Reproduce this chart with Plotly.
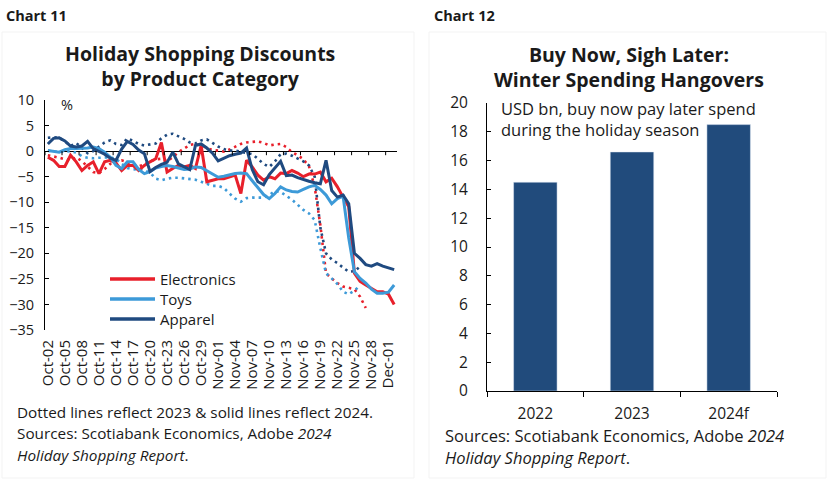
import pandas as pd
import plotly.graph_objects as go

# Figure size in px, used to place text in paper coords
W, H = 828, 482

# ---- Chart 11 data: holiday shopping discounts (%), daily from Oct-02
dates = pd.date_range("2024-10-02", "2024-12-02").strftime("%b-%d").tolist()
days = list(range(len(dates)))

elec_2024 = [-1.2, -1.8, -3.0, -3.0, -0.8, -2.1, -3.8, -2.8, -2.1, -4.4,
             -2.1, -1.8, -2.3, -3.8, -2.8, -2.8, -3.8, -2.8, -2.1, -1.5,
             1.7, -4.1, -3.4, -2.8, -3.1, -2.8, -3.4, 1.1, -6.0, -5.7,
             -5.4, -5.4, -5.0, -4.7, -8.3, -1.8, -3.1, -4.7, -5.7, -5.0,
             -5.4, -4.3, -4.4, -3.8, -4.3, -5.0, -4.5, -4.5, -4.1, -6.0,
             -5.3, -7.0, -9.0, -10.9, -23.9, -25.5, -26.2, -26.8, -27.5, -27.5,
             -28.0, -30.0]
toys_2024 = [0.1, -0.1, -0.2, 0.3, 0.5, 0.5, 0.5, 0.6, 0.8, 0.5,
             -0.2, -1.2, -2.8, -3.4, -2.1, -2.1, -3.6, -4.4, -4.0, -3.3,
             -3.0, -2.8, -3.0, -3.3, -3.6, -3.5, -3.1, -3.2, -3.8, -4.5,
             -5.1, -4.9, -4.6, -4.4, -4.3, -4.4, -5.8, -7.2, -8.5, -9.3,
             -8.3, -7.0, -7.6, -7.9, -8.0, -7.5, -7.0, -6.7, -7.5, -8.6,
             -10.3, -9.3, -8.8, -17.0, -23.6, -24.9, -25.8, -27.0, -27.8, -27.8,
             -27.6, -26.2]
apparel_2024 = [1.4, 2.5, 2.6, 2.0, 1.0, 0.8, 1.0, 1.9, 0.5, -0.1,
                -0.6, -1.4, -1.8, 0.4, 1.9, 1.3, 0.2, -0.5, -4.0, -3.2,
                -2.6, -2.2, -0.2, -2.5, -3.0, -3.6, 1.1, 1.4, 0.6, -0.4,
                -1.9, -1.4, -0.9, -0.6, -0.4, 0.6, -3.6, -6.0, -6.6, -4.6,
                -3.2, -2.0, -4.8, -4.7, -5.2, -5.6, -5.9, -6.2, -6.4, -1.8,
                -7.7, -9.0, -8.6, -10.3, -20.0, -21.0, -22.2, -22.5, -22.0, -22.5,
                -22.8, -23.2]

elec_2023 = [-0.8, -1.0, -1.3, -1.6, -1.8, -1.2, -2.0, -3.0, -4.1, -4.3,
             -3.5, -2.5, -2.0, -1.8, -2.2, -2.5, -3.0, -2.6, -2.0, -1.6,
             -1.5, -2.0, -1.2, -0.2, 0.5, 1.2, 1.4, 1.2, 0.6, 0.2,
             0.1, -0.1, 0.3, 0.8, 1.4, 1.7, 1.8, 1.9, 1.6, 1.1,
             1.3, 1.4, 0.8, -0.2, -0.8, -1.6, -3.0, -7.0, -14.5, -23.9,
             -24.9, -25.8, -26.5, -26.8, -27.0, -28.5, -30.7]
toys_2023 = [0.1, 0.0, -0.2, -0.1, 0.0, -0.3, -1.0, -1.3, -1.4, -1.3,
             -1.2, -1.2, -1.5, -2.5, -3.3, -3.6, -3.5, -3.8, -4.2, -5.4,
             -5.7, -5.4, -5.2, -5.2, -5.3, -5.4, -5.6, -6.0, -6.4, -6.8,
             -6.8, -7.2, -8.3, -9.3, -9.9, -9.2, -9.1, -9.1, -9.1, -8.6,
             -7.8, -8.0, -8.8, -9.5, -10.5, -11.5, -12.2, -13.5, -19.0, -23.9,
             -24.9, -26.0, -27.5, -28.0, -27.3, -26.3]
apparel_2023 = [2.6, 2.7, 2.6, 1.9, 1.0, 1.6, 0.6, -0.4, 0.0, 0.8,
                1.7, 2.1, 1.4, 1.2, 2.5, 2.0, 1.4, 1.1, 1.3, 1.5,
                2.5, 3.2, 3.4, 2.9, 2.4, 1.7, 1.5, 2.1, 2.3, 1.6,
                0.9, 0.4, 0.1, 0.1, -0.1, -0.3, -0.6, -1.5, -2.5, -3.1,
                -2.0, -0.6, -0.5, -0.9, -1.4, -2.0, -2.8, -5.0, -15.0, -20.0,
                -21.2, -21.9, -22.8, -23.6, -23.5, -22.6]

# ---- Chart 12 data: BNPL holiday spend, USD bn
years = ["2022", "2023", "2024f"]
bnpl_spend = [14.5, 16.6, 18.5]

RED = "#E8202B"
LIGHT_BLUE = "#3D9AD8"
NAVY = "#1F4A80"
BAR_NAVY = "#214B7C"
FONT = "Open Sans"
TXT = "#1a1a1a"

series_2024 = [("Electronics", elec_2024, RED),
               ("Toys", toys_2024, LIGHT_BLUE),
               ("Apparel", apparel_2024, NAVY)]
series_2023 = [("Electronics 2023", elec_2023, RED),
               ("Toys 2023", toys_2023, LIGHT_BLUE),
               ("Apparel 2023", apparel_2023, NAVY)]


def px(x):
    return x / W


def py(y):
    return 1 - y / H


fig = go.Figure()

# dotted 2023 lines first
for name, vals, col in series_2023:
    fig.add_trace(go.Scatter(x=days[:len(vals)], y=vals, mode="lines", name=name,
                             line=dict(color=col, width=2.6, dash="2.5px,4px"),
                             showlegend=False, xaxis="x", yaxis="y"))

# solid 2024 lines
for name, vals, col in series_2024:
    fig.add_trace(go.Scatter(x=days[:len(vals)], y=vals, mode="lines", name=name,
                             line=dict(color=col, width=3),
                             showlegend=False, xaxis="x", yaxis="y"))

# small tick marks hanging below the zero line, every 3 days between labels
tick_pos = [d - 0.5 for d in days[::3]]
fig.add_trace(go.Scatter(x=tick_pos, y=[0] * len(tick_pos), mode="markers",
                         marker=dict(size=1, color="rgba(0,0,0,0)"),
                         error_y=dict(type="data", symmetric=False,
                                      array=[0] * len(tick_pos),
                                      arrayminus=[0.8] * len(tick_pos),
                                      width=0, thickness=1, color="black"),
                         showlegend=False, hoverinfo="skip",
                         xaxis="x", yaxis="y"))

# bars
fig.add_trace(go.Bar(x=years, y=bnpl_spend, marker_color=BAR_NAVY,
                     showlegend=False, xaxis="x2", yaxis="y2"))

fig.update_layout(
    width=W, height=H,
    margin=dict(l=0, r=0, t=0, b=0),
    paper_bgcolor="white", plot_bgcolor="white",
    font=dict(family=FONT, color=TXT, size=14),
    bargap=0.55,
    showlegend=False,
    xaxis=dict(domain=[px(45), px(397)], range=[-0.5, 61.5],
               tickvals=days[::3], ticktext=dates[::3], tickangle=-90,
               ticks="", showline=False, showgrid=False, zeroline=False,
               tickfont=dict(size=15), ticklabelstandoff=6,
               automargin=False, anchor="y"),
    yaxis=dict(domain=[py(330), py(100)], range=[-35, 10], dtick=5,
               ticks="inside", ticklen=4, tickcolor="black",
               showline=True, linecolor="black", linewidth=1,
               showgrid=False, zeroline=True, zerolinecolor="black",
               zerolinewidth=1.2, tickfont=dict(size=14.5),
               ticklabelstandoff=7, automargin=False, anchor="x"),
    xaxis2=dict(domain=[px(487), px(777)], type="category",
                ticks="outside", tickson="boundaries", ticklen=5,
                tickcolor="black", showline=True, linecolor="black",
                linewidth=1.2, showgrid=False, tickfont=dict(size=15.5),
                ticklabelstandoff=8, automargin=False, anchor="y2"),
    yaxis2=dict(domain=[py(391), py(103)], range=[0, 20], dtick=2,
                ticks="inside", ticklen=4, tickcolor="black",
                showline=True, linecolor="black", linewidth=1,
                showgrid=False, zeroline=False, tickfont=dict(size=15.5),
                ticklabelstandoff=15, automargin=False, anchor="x2"),
)

# faint panel frames
fig.add_shape(type="rect", xref="paper", yref="paper",
              x0=px(2), x1=px(414), y0=py(478), y1=py(32),
              line=dict(color="#f3f3f3", width=1), layer="below")
fig.add_shape(type="rect", xref="paper", yref="paper",
              x0=px(429), x1=px(826), y0=py(478), y1=py(32),
              line=dict(color="#f3f3f3", width=1), layer="below")


def note(text, x, y, size=14, xanchor="left", align="left", yanchor="middle"):
    fig.add_annotation(text=text, x=px(x), y=py(y), xref="paper", yref="paper",
                       showarrow=False, xanchor=xanchor, yanchor=yanchor,
                       align=align, font=dict(size=size, color=TXT, family=FONT))


# legend drawn by hand: long line sample then label
for i, (name, vals, col) in enumerate(series_2024):
    ly = 279 + 20 * i
    fig.add_shape(type="line", xref="paper", yref="paper",
                  x0=px(110), x1=px(155), y0=py(ly), y1=py(ly),
                  line=dict(color=col, width=3.5))
    note(name, 158, ly, size=15)

note("<b>Chart 11</b>", 4, 15, size=14.5)
note("<b>Chart 12</b>", 432, 15, size=14.5)
note("<b>Holiday Shopping Discounts<br>by Product Category</b>", 200, 66,
     size=19.5, xanchor="center", align="center")
note("<b>Buy Now, Sigh Later:<br>Winter Spending Hangovers</b>", 629, 67,
     size=19.5, xanchor="center", align="center")
note("%", 67, 104, size=14.5, xanchor="center")
note("USD bn, buy now pay later spend<br>during the holiday season", 499, 119,
     size=16.5)
note("Dotted lines reflect 2023 &amp; solid lines reflect 2024.", 15, 412, size=15.3)
note("Sources: Scotiabank Economics, Adobe <i>2024</i>", 15, 433, size=15.3)
note("<i>Holiday Shopping Report</i>.", 15, 455, size=15.3)
note("Sources: Scotiabank Economics, Adobe <i>2024</i>", 443, 435, size=16.5)
note("<i>Holiday Shopping Report</i>.", 443, 457, size=16.5)

# page body has an 8px default margin; drop it so the figure sits at 0,0
fig.write_html("out.html", config={"displayModeBar": False},
               post_script="document.body.style.margin='0px';")
